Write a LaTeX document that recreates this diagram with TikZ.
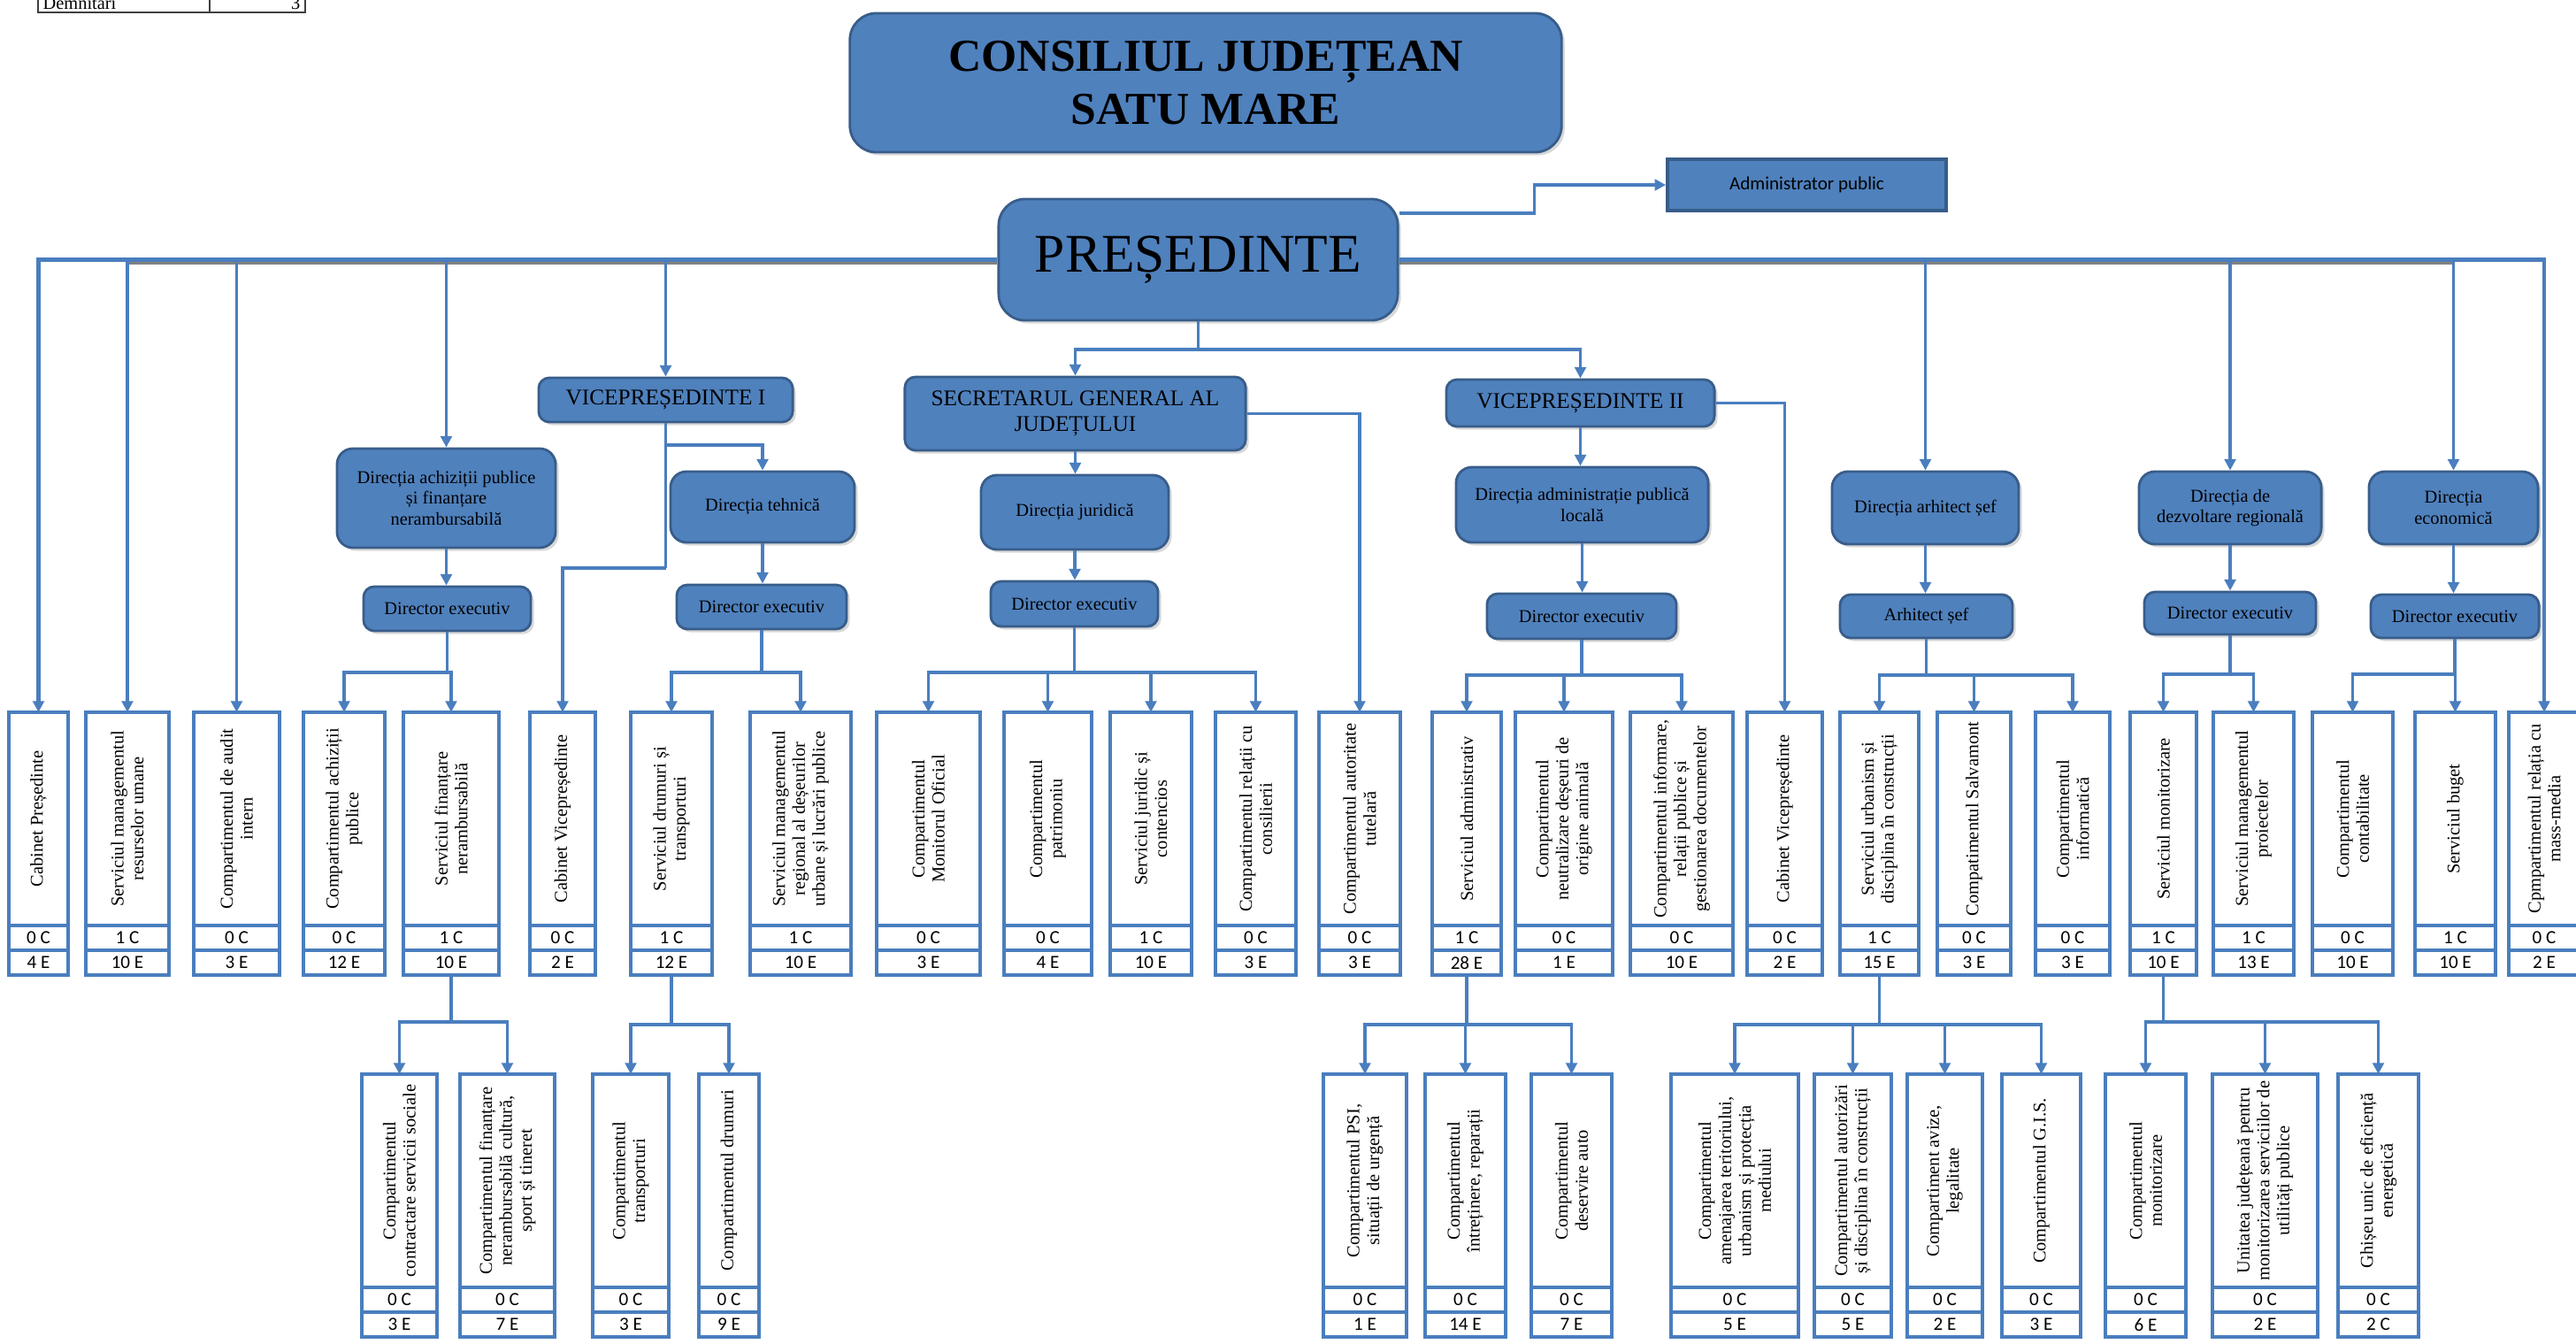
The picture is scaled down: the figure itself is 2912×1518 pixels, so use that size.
\documentclass[tikz,border=0pt]{standalone}
\usepackage{fontspec}
\setmainfont{Liberation Serif}
\newfontfamily\calib{Carlito}
\usetikzlibrary{arrows.meta,shadows}
\definecolor{ofblue}{RGB}{79,129,189}
\definecolor{ofborder}{RGB}{56,93,138}
\definecolor{linec}{RGB}{74,126,190}
\tikzset{
 fbx/.style={fill=ofblue, draw=ofborder, line width=0.8pt, inner sep=1pt, align=center, text=black,
   drop shadow={shadow xshift=0.035cm, shadow yshift=-0.035cm, opacity=0.3}},
 bigbox/.style={fbx, rounded corners=0.3cm},
 vpbox/.style={fbx, rounded corners=0.12cm, font=\fontsize{7.2}{8.2}\selectfont},
 dirbox/.style={fbx, rounded corners=0.18cm, font=\fontsize{5.8}{6.7}\selectfont},
 dexbox/.style={fbx, rounded corners=0.12cm, font=\fontsize{5.8}{6.7}\selectfont},
 admbox/.style={fill=ofblue, draw=ofborder, line width=1pt, inner sep=1pt, font=\calib\fontsize{6}{7}\selectfont},
 colbx/.style={draw=linec, line width=1.3pt, fill=white, inner sep=0pt, outer sep=0pt},
 rottext/.style={rotate=90, align=center, inner sep=0pt, font=\fontsize{5.8}{6.4}\selectfont},
 numtext/.style={font=\calib\fontsize{6}{6}\selectfont},
 tblcell/.style={draw=black!75, line width=0.6pt, inner sep=0pt},
 conn/.style={draw=linec, line width=1pt},
 arr/.style={conn, -{Triangle[length=3.6pt,width=3.6pt]}},
 busshadow/.style={draw=black!70, line width=1.1pt, opacity=0.7, transform canvas={yshift=-0.04cm}},
}
\newcommand{\fillbox}[7]{%
 \pgfmathsetmacro\myBW{(#5-#3)/100}\pgfmathsetmacro\myBH{(#6-#4)/100}%
 \pgfmathsetmacro\myBX{(#3+#5)/2}\pgfmathsetmacro\myBY{(#4+#6)/2}%
 \node[#2, minimum width=\myBW cm, minimum height=\myBH cm] (#1) at (\myBX,\myBY) {#7};}
\newcommand{\colbox}[7]{%
 \pgfmathsetmacro\myBW{(#3-#2)/100}\pgfmathsetmacro\myBX{(#2+#3)/2}\pgfmathsetmacro\myBY{#4+120.5}%
 \node[colbx, minimum width=\myBW cm, minimum height=2.41cm] (#1) at (\myBX,\myBY) {};
 \node[rottext] (#1T) at (#1.center) {#5};
 \node[colbx, numtext, minimum width=\myBW cm, minimum height=0.28cm, anchor=north] (#1C) at (#1.south) {#6};
 \node[colbx, numtext, minimum width=\myBW cm, minimum height=0.28cm, anchor=north] (#1E) at (#1C.south) {#7};}
\newcommand{\branch}[3]{%
 \coordinate (yref) at (0,#2);
 \draw[conn] (#1.south) -- (#1.south |- yref);
 \foreach \chn in {#3} {\draw[arr] (#1.south |- yref) -| (\chn.north);}}
\begin{document}
\begin{tikzpicture}[x=0.01cm,y=-0.01cm]
\useasboundingbox (0,0) rectangle (2912,1518);
\clip (0,0) rectangle (2912,1518);
\fill[white] (0,0) rectangle (2912,1518);

% table fragment
\node[tblcell, minimum width=1.94cm, minimum height=0.45cm, anchor=south west] (demA) at (42,15) {};
\node[tblcell, minimum width=1.08cm, minimum height=0.45cm, anchor=south west] (demB) at (236,15) {};
\node[anchor=base west, font=\fontsize{5.8}{6}\selectfont, inner sep=0pt] (demT) at (48,11) {Demnitari};
\node[anchor=base east, font=\fontsize{5.8}{6}\selectfont, inner sep=0pt] (demN) at (340,11) {3};

% top boxes
\fillbox{title}{bigbox, font=\fontsize{14.7}{17}\selectfont\bfseries}{961}{15}{1765}{172}{CONSILIUL JUDEȚEAN\\SATU MARE}
\fillbox{admin}{admbox}{1885}{180}{2200}{238}{Administrator public}
\fillbox{pres}{bigbox, font=\fontsize{17.5}{20}\selectfont}{1129}{225}{1580}{362}{PREȘEDINTE}
\fillbox{vp1}{vpbox}{609}{427}{896}{477}{VICEPREȘEDINTE I}
\fillbox{sec}{vpbox}{1023}{426}{1408}{509}{SECRETARUL GENERAL AL\\JUDEȚULUI}
\fillbox{vp2}{vpbox}{1635}{429}{1938}{482}{VICEPREȘEDINTE II}

\fillbox{dach}{dirbox}{381}{507}{628}{619}{Direcția achiziții publice\\și finanțare\\nerambursabilă}
\fillbox{dteh}{dirbox}{758}{533}{966}{613}{Direcția tehnică}
\fillbox{djur}{dirbox}{1109}{537}{1321}{621}{Direcția juridică}
\fillbox{dadm}{dirbox}{1646}{528}{1931}{613}{Direcția administrație publică\\locală}
\fillbox{darh}{dirbox}{2071}{533}{2282}{615}{Direcția arhitect șef}
\fillbox{ddez}{dirbox}{2418}{533}{2624}{615}{Direcția de\\dezvoltare regională}
\fillbox{deco}{dirbox}{2678}{533}{2869}{615}{Direcția\\economică}

\fillbox{deach}{dexbox}{411}{663}{600}{713}{Director executiv}
\fillbox{deteh}{dexbox}{765}{661}{957}{711}{Director executiv}
\fillbox{dejur}{dexbox}{1120}{657}{1309}{708}{Director executiv}
\fillbox{deadm}{dexbox}{1681}{671}{1895}{722}{Director executiv}
\fillbox{arhsef}{dexbox}{2080}{672}{2275}{721}{Arhitect șef}
\fillbox{dedez}{dexbox}{2424}{669}{2618}{717}{Director executiv}
\fillbox{deeco}{dexbox}{2680}{672}{2870}{721}{Director executiv}

% main row of columns
\colbox{c1}{10}{77}{805}{Cabinet Președinte}{0 C}{4 E}
\colbox{c2}{97}{191}{805}{Serviciul managementul\\resurselor umane}{1 C}{10 E}
\colbox{c3}{219}{316}{805}{Compartimentul de audit\\intern}{0 C}{3 E}
\colbox{c4}{343}{435}{805}{Compartimentul achiziții\\publice}{0 C}{12 E}
\colbox{c5}{456}{564}{805}{Serviciul finanțare\\nerambursabilă}{1 C}{10 E}
\colbox{c6}{599}{673}{805}{Cabinet Vicepreședinte}{0 C}{2 E}
\colbox{c7}{713}{805}{805}{Serviciul drumuri și\\transporturi}{1 C}{12 E}
\colbox{c8}{848}{962}{805}{Serviciul managementul\\regional al deșeurilor\\urbane și lucrări publice}{1 C}{10 E}
\colbox{c9}{991}{1108}{805}{Compartimentul\\Monitorul Oficial}{0 C}{3 E}
\colbox{c10}{1135}{1234}{805}{Compartimentul\\patrimoniu}{0 C}{4 E}
\colbox{c11}{1255}{1347}{805}{Serviciul juridic și\\contencios}{1 C}{10 E}
\colbox{c12}{1374}{1465}{805}{Compartimentul relații cu\\consilierii}{0 C}{3 E}
\colbox{c13}{1491}{1583}{805}{Compartimentul autoritate\\tutelară}{0 C}{3 E}
\colbox{c14}{1619}{1697}{805}{Serviciul administrativ}{1 C}{28 E}
\colbox{c15}{1713}{1823}{805}{Compartimentul\\neutralizare deșeuri de\\origine animală}{0 C}{1 E}
\colbox{c16}{1843}{1959}{805}{Compartimentul informare,\\relații publice și\\gestionarea documentelor}{0 C}{10 E}
\colbox{c17}{1975}{2060}{805}{Cabinet Vicepreședinte}{0 C}{2 E}
\colbox{c18}{2080}{2169}{805}{Serviciul urbanism și\\disciplina în construcții}{1 C}{15 E}
\colbox{c19}{2190}{2273}{805}{Compatimentul Salvamont}{0 C}{3 E}
\colbox{c20}{2301}{2385}{805}{Compartimentul\\informatică}{0 C}{3 E}
\colbox{c21}{2408}{2483}{805}{Serviciul monitorizare}{1 C}{10 E}
\colbox{c22}{2502}{2593}{805}{Serviciul managementul\\proiectelor}{1 C}{13 E}
\colbox{c23}{2614}{2705}{805}{Compartimentul\\contabilitate}{0 C}{10 E}
\colbox{c24}{2730}{2821}{805}{Serviciul buget}{1 C}{10 E}
\colbox{c25}{2836}{2916}{805}{Cpmpartimentul relația cu\\mass-media}{0 C}{2 E}

% lower row
\colbox{sa}{409}{494}{1214}{Compartimentul\\contractare servicii sociale}{0 C}{3 E}
\colbox{sb}{520}{627}{1214}{Compartimentul finanțare\\nerambursabilă cultură,\\sport și tineret}{0 C}{7 E}
\colbox{sc}{670}{756}{1214}{Compartimentul\\transporturi}{0 C}{3 E}
\colbox{sd}{790}{858}{1214}{Compartimentul drumuri}{0 C}{9 E}
\colbox{se}{1496}{1590}{1214}{Compartimentul PSI,\\situații de urgență}{0 C}{1 E}
\colbox{sf}{1611}{1702}{1214}{Compartimentul\\întreținere, reparații}{0 C}{14 E}
\colbox{sg}{1731}{1822}{1214}{Compartimentul\\deservire auto}{0 C}{7 E}
\colbox{sh}{1889}{2033}{1214}{Compartimentul\\amenajarea teritoriului,\\urbanism și protecția\\mediului}{0 C}{5 E}
\colbox{si}{2051}{2138}{1214}{Compartimentul autorizări\\și disciplina în construcții}{0 C}{5 E}
\colbox{sj}{2156}{2241}{1214}{Compartiment avize,\\legalitate}{0 C}{2 E}
\colbox{sk}{2263}{2352}{1214}{Compartimentul G.I.S.}{0 C}{3 E}
\colbox{sl}{2380}{2471}{1214}{Compartimentul\\monitorizare}{0 C}{6 E}
\colbox{sm}{2501}{2620}{1214}{Unitatea județeană pentru\\monitorizarea serviciilor de\\utilități publice}{0 C}{2 E}
\colbox{sn}{2643}{2734}{1214}{Ghișeu unic de eficiență\\energetică}{0 C}{2 C}

% shadow under the bus
\draw[busshadow] (c2.north |- pres.west) -- (pres.west);
\draw[busshadow] (pres.east) -- (deco.north |- pres.east);

% bus from PRESEDINTE
\draw[arr, line width=1.2pt] (pres.west) -| (c1.north);
\foreach \n in {c2,c3,dach,vp1} {\draw[arr] (\n.north |- pres.west) -- (\n.north);}
\draw[arr, line width=1.2pt] (pres.east) -| (c25.north);
\foreach \n in {darh,ddez,deco} {\draw[arr] (\n.north |- pres.east) -- (\n.north);}
\draw[arr] ([yshift=0.525cm]pres.east) -- ++(153,0) |- (admin.west);

% president down
\coordinate (pj) at (1354.5,395);
\draw[conn] (pres.south) -- (pj);
\draw[arr] (pj) -| (sec.north);
\draw[arr] (pj) -| (vp2.north);

% VP I
\coordinate (v1a) at (752.5,503);
\coordinate (v1b) at (752.5,642);
\draw[conn] (vp1.south) -- (v1b);
\draw[arr] (v1a) -| (dteh.north);
\draw[arr] (v1b) -| (c6.north);

% secretar
\draw[arr] (sec.south) -- (sec.south |- djur.north);
\draw[arr] (sec.east) -| (c13.north);

% VP II
\draw[arr] (vp2.south) -- (vp2.south |- dadm.north);
\draw[arr] (vp2.east) -| (c17.north);

% directorate to director
\foreach \a/\b in {dach/deach,dteh/deteh,djur/dejur,dadm/deadm,darh/arhsef,ddez/dedez,deco/deeco}
  {\draw[arr] (\a.south) -- (\a.south |- \b.north);}

% directors to columns
\branch{deach}{760}{c4,c5}
\branch{deteh}{760}{c7,c8}
\branch{dejur}{760}{c9,c10,c11,c12}
\branch{deadm}{763}{c14,c15,c16}
\branch{arhsef}{763}{c18,c19,c20}
\branch{dedez}{762}{c21,c22}
\branch{deeco}{762}{c23,c24}

% sub branches
\branch{c5E}{1155}{sa,sb}
\branch{c7E}{1158}{sc,sd}
\branch{c14E}{1158}{se,sf,sg}
\branch{c18E}{1158}{sh,si,sj,sk}
\branch{c21E}{1155}{sl,sm,sn}
\end{tikzpicture}
\end{document}
